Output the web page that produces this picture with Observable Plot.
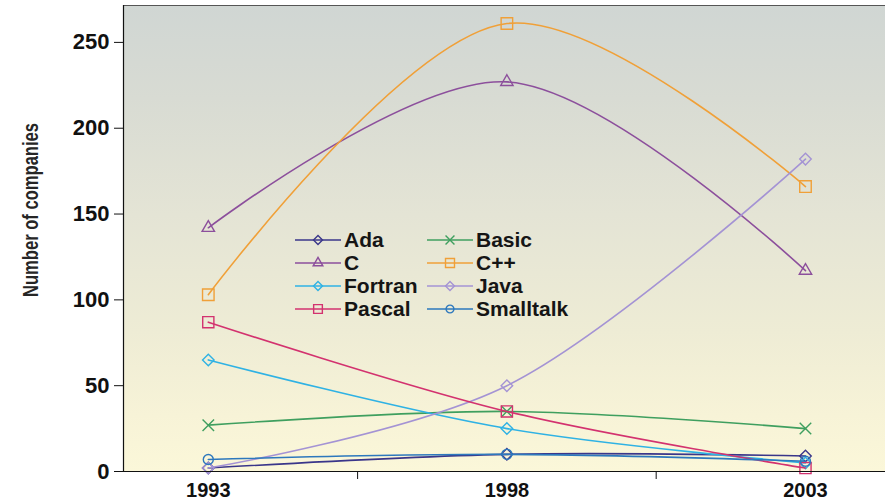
<!DOCTYPE html>
<html>
<head>
<meta charset="utf-8">
<script src="https://cdn.jsdelivr.net/npm/d3@7"></script>
<script src="https://cdn.jsdelivr.net/npm/@observablehq/plot@0.6"></script>
<style>
  body { margin: 0; background: #fff; }
  #wrap { position: relative; width: 890px; height: 503px; overflow: hidden; }
  #legend {
    position: absolute; left: 295px; top: 228px;
    display: grid; grid-template-columns: 132px auto; grid-auto-rows: 23px;
    font: bold 21px "Liberation Sans", Arial, sans-serif; color: #151515;
  }
  #legend .item { display: flex; align-items: center; white-space: nowrap; }
  #legend svg { flex: none; margin-right: 3px; }
</style>
</head>
<body>
<div id="wrap"><div id="chart"></div><div id="legend"></div></div>
<script>
// Survey years and number of companies using each language
const years = [1993, 1998, 2003];
const languages = ["Ada", "Basic", "C", "C++", "Fortran", "Java", "Pascal", "Smalltalk"];
const ada       = [2, 10, 9];
const basic     = [27, 35, 25];
const c         = [142, 227, 117];
const cpp       = [103, 261, 166];
const fortran   = [65, 25, 5];
const java      = [2, 50, 182];
const pascal    = [87, 35, 2];
const smalltalk = [7, 10, 6];
const yTicks = [0, 50, 100, 150, 200, 250];
const xBetweenTicks = [1995.5, 2000.5];
const yLabel = "Number of companies";

const counts = [ada, basic, c, cpp, fortran, java, pascal, smalltalk];

// line colour and marker for each language
const styles = {
  "Ada":       {color: "#3a368a", symbol: "diamond2", r: 5.2},
  "Basic":     {color: "#3f9f5f", symbol: "times",    r: 5.3},
  "C":         {color: "#8c4f9c", symbol: "triangle", r: 4.6},
  "C++":       {color: "#f0a038", symbol: "square",   r: 6.5},
  "Fortran":   {color: "#2fb2e4", symbol: "diamond2", r: 5.2},
  "Java":      {color: "#a493d4", symbol: "diamond2", r: 5.2},
  "Pascal":    {color: "#d3326f", symbol: "square",   r: 6.3},
  "Smalltalk": {color: "#2d78bd", symbol: "circle",   r: 5}
};

const rows = languages.flatMap((lang, i) =>
  years.map((year, j) => ({language: lang, year, count: counts[i][j]})));

const xDomain = [1991.58, 2004.34];
const yDomain = [0, 271.5];
const font = "'Liberation Sans', Arial, sans-serif";

const seriesMarks = languages.flatMap(lang => {
  const s = styles[lang];
  const data = rows.filter(d => d.language === lang);
  return [
    Plot.line(data, {x: "year", y: "count", stroke: s.color, strokeWidth: 1.6, curve: "catmull-rom"}),
    Plot.dot(data, {x: "year", y: "count", symbol: s.symbol, r: s.r, stroke: s.color, strokeWidth: 1.4, fill: "none"})
  ];
});

const chart = Plot.plot({
  width: 890,
  height: 503,
  marginLeft: 123,
  marginRight: 5,
  marginTop: 5,
  marginBottom: 32,
  style: {fontFamily: font, background: "#fff", color: "#111"},
  x: {domain: xDomain},
  y: {domain: yDomain},
  marks: [
    ...seriesMarks,
    Plot.ruleY([0], {stroke: "#111", strokeWidth: 1.2}),
    Plot.ruleX([xDomain[0]], {stroke: "#111", strokeWidth: 1.2}),
    Plot.axisY({ticks: yTicks, tickSize: 9, tickPadding: 5, label: null,
      fontSize: 22, fontWeight: "bold", stroke: "#111"}),
    Plot.axisX({ticks: years, tickSize: 0, tickPadding: 11, label: null,
      tickFormat: d => String(d), fontSize: 20, fontWeight: "bold"}),
    Plot.axisX({ticks: xBetweenTicks, tickSize: 8, label: null, tickFormat: () => "", stroke: "#111"})
  ]
});

// shaded plotting area with a thin border along its top edge
const svg = d3.select(chart);
const [x0, x1] = chart.scale("x").range;
const [yb, yt] = chart.scale("y").range;
const grad = svg.insert("defs", ":first-child").append("linearGradient")
  .attr("id", "areaShade").attr("x1", 0).attr("y1", 0).attr("x2", 0).attr("y2", 1);
[[0, "#d0d6d3"], [0.2, "#d8dbd3"], [0.45, "#e4e4d5"], [0.7, "#eeecd5"], [0.88, "#f7f3d7"], [1, "#fbf7d9"]]
  .forEach(([o, col]) => grad.append("stop").attr("offset", o).attr("stop-color", col));
const bg = svg.insert("g", "defs + *");
bg.append("rect").attr("x", x0).attr("y", yt).attr("width", x1 - x0).attr("height", yb - yt)
  .attr("fill", "url(#areaShade)");
bg.append("line").attr("x1", x0).attr("x2", x1).attr("y1", yt + 0.5).attr("y2", yt + 0.5)
  .attr("stroke", "#555").attr("stroke-width", 1.2);

// rotated y-axis title, condensed to its printed length
svg.append("text")
  .attr("transform", "translate(38,210) rotate(-90)")
  .attr("text-anchor", "middle")
  .attr("textLength", 174).attr("lengthAdjust", "spacingAndGlyphs")
  .attr("font-family", font).attr("font-size", 22).attr("font-weight", "bold")
  .attr("fill", "#262626")
  .text(yLabel);

document.getElementById("chart").appendChild(chart);

// legend: two columns, line sample with marker followed by the name
const symbolTypes = {
  diamond2: d3.symbolDiamond2, times: d3.symbolTimes, triangle: d3.symbolTriangle,
  square: d3.symbolSquare, circle: d3.symbolCircle
};
const legend = d3.select("#legend");
languages.forEach(lang => {
  const s = styles[lang];
  const item = legend.append("div").attr("class", "item");
  const sw = item.append("svg").attr("width", 46).attr("height", 20);
  sw.append("line").attr("x1", 0).attr("x2", 46).attr("y1", 10).attr("y2", 10)
    .attr("stroke", s.color).attr("stroke-width", 1.5);
  const rr = s.r * 0.78;
  sw.append("path").attr("transform", "translate(23,10)")
    .attr("d", d3.symbol(symbolTypes[s.symbol], Math.PI * rr * rr)())
    .attr("fill", "none").attr("stroke", s.color).attr("stroke-width", 1.4);
  item.append("span").text(lang);
});
</script>
</body>
</html>
